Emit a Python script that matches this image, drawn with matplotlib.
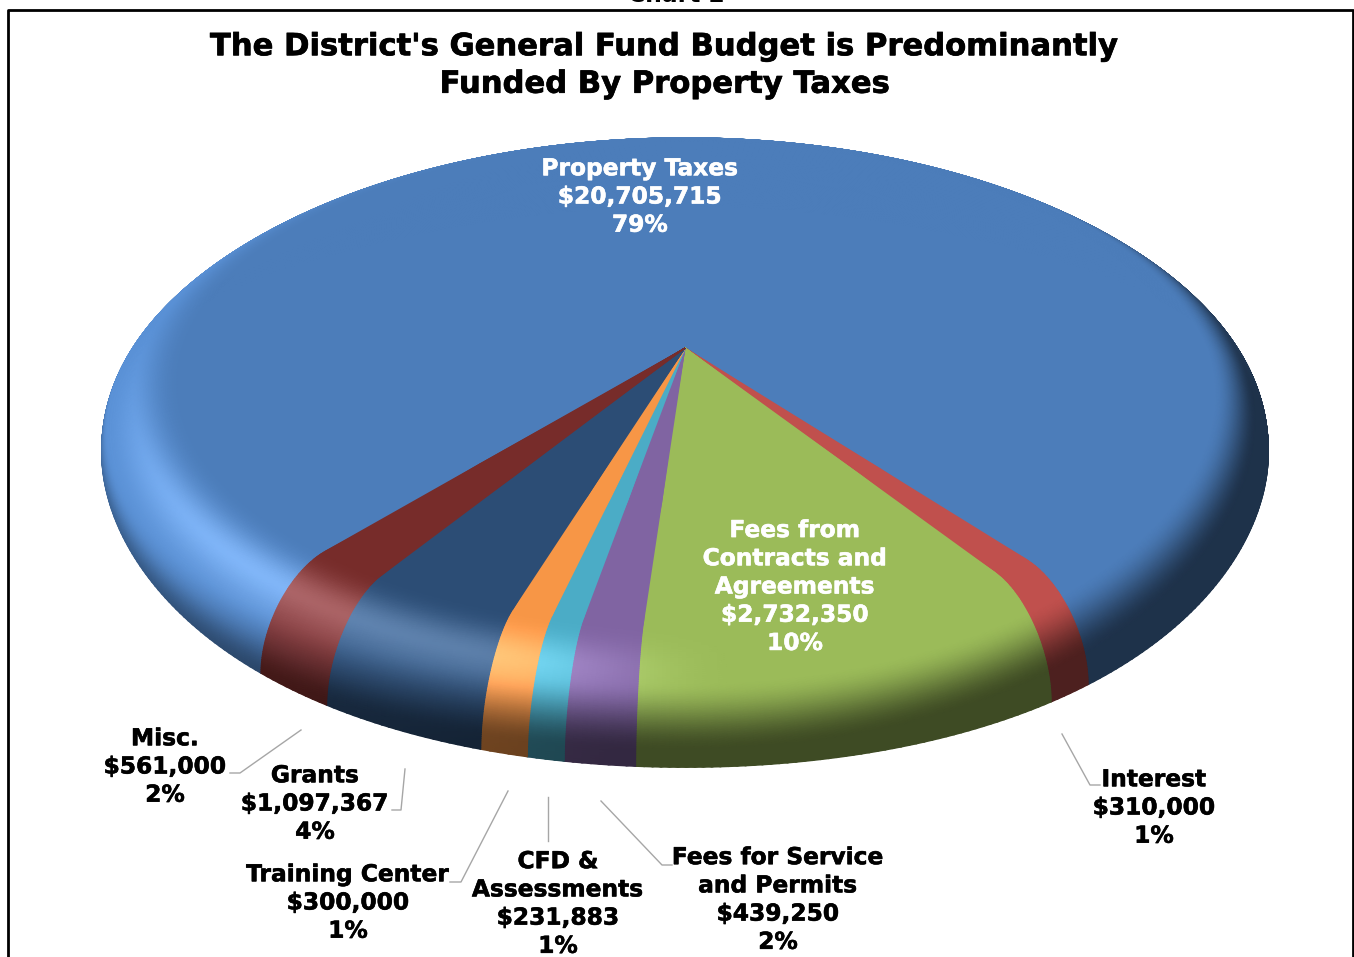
import numpy as np
import matplotlib
matplotlib.use('Agg')
import matplotlib.pyplot as plt
import matplotlib.patheffects as pe

# Slices in the order they run round the pie, left to right across the front
names = ['Misc.', 'Grants', 'Training Center', 'CFD &\nAssessments',
         'Fees for Service\nand Permits', 'Fees from\nContracts and\nAgreements',
         'Interest', 'Property Taxes']
amounts = [561000, 1097367, 300000, 231883, 439250, 2732350, 310000, 20705715]
percents = [2, 4, 1, 1, 2, 10, 1, 79]
colors = ['#772c2a', '#2c4d75', '#f79646', '#4bacc6', '#8064a2', '#9bbb59', '#c0504d', '#4c7dba']

title = "The District's General Fund Budget is Predominantly\nFunded By Property Taxes"
label_xy = [(165, 767), (315, 804), (348, 903), (558, 904), (778, 900), (795, 587), (1154, 808), (640, 197)]
label_col = ['black'] * 5 + ['white', 'black', 'white']
leaders = [[(230, 773), (240, 773), (301, 730)],
           [(392, 810), (401, 810), (405, 769)],
           [(450, 882), (461, 882), (508, 791)],
           [(548, 797), (548, 841)],
           [(601, 801), (662, 865), (672, 865)],
           [(1062, 734), (1090, 785), (1100, 785)]]

# Perspective of the pie, in pixels
AX, AY = 685, 348
A, B, K = 498, 236, 0.145
RIM, DROP = 0.155, 92
FRONT_EDGE = np.radians(-4.1)  # left edge of the green slice


def project(theta, r, phi):
    R = r + RIM * np.sin(phi)
    den = 1 - K * R * np.cos(theta)
    x = AX + A * R * np.sin(theta) / den
    drop = DROP * (1 - 0.4 * np.sin(theta) ** 4)
    y = AY + B * R * np.cos(theta) / den + drop * (1 - np.cos(phi))
    return x, y


def smooth(t):
    t = np.clip(t, 0, 1)
    return t * t * (3 - 2 * t)


def shade(base, theta, t):
    # t is 0 on the flat top, 1 at the outer edge of the bevel
    base = np.array(matplotlib.colors.to_rgb(base))
    deg = np.degrees(np.arctan2(np.sin(theta), np.cos(theta)))
    on = smooth(t / 0.45)
    lit = (1 - smooth((deg + 20) / 25)) * smooth((deg + 100) / 60)
    glow = 0.18 * lit * np.exp(-((t - 0.36) / 0.24) ** 2) * on
    left = np.clip(-np.sin(theta), 0, 1)
    side = 0.08 * left * on * (1 - smooth((t - 0.75) / 0.25))
    back = np.clip(-np.cos(theta), 0, 1)
    dk = np.clip(0.62 + 0.55 * np.cos(theta - np.radians(40)), 0.12, 1) * (1 - 0.35 * back) + 0.1 * back
    t0 = 0.47 - 0.27 * np.sin(theta) * np.abs(np.sin(theta)) - 0.2 * back
    dark = 1 - 0.6 * np.clip(dk, 0, 1) * smooth((t - t0) / 0.42)
    lift = glow[..., None] + side[..., None] * np.array([0.7, 1.0, 1.4])
    rgb = (base[None, None, :] + lift) * dark[..., None]
    return np.clip(rgb, 0, 1)


fig = plt.figure(figsize=(13.54, 9.57), dpi=100)
ax = fig.add_axes([0, 0, 1, 1])

total = sum(amounts)
spans = np.array(amounts) / total * 2 * np.pi
start = FRONT_EDGE - spans[:5].sum()
edges = start + np.concatenate([[0], np.cumsum(spans)])

# Radial rows go outer to inner so the flat top hides the back of the bevel
phi = np.linspace(np.pi / 2, 0, 71)
r_full = np.concatenate([np.ones(71), [0.6, 0.0]])
phi_full = np.concatenate([phi, [0.0, 0.0]])
t_edge = phi_full / (np.pi / 2)

for i in range(len(amounts) - 1, -1, -1):
    n = max(int(spans[i] / np.radians(0.7)), 3)
    th = np.linspace(edges[i], edges[i + 1], n + 1)
    T, S = np.meshgrid(th, np.arange(len(r_full)), indexing='xy')
    X, Y = project(T, r_full[S], phi_full[S])
    ax.pcolormesh(X, Y, shade(colors[i], T, t_edge[S]), shading='gouraud')

for pts in leaders:
    xs, ys = zip(*pts)
    ax.plot(xs, ys, color='#a6a6a6', lw=1)

for name, amt, pct, (x, y), col in zip(names, amounts, percents, label_xy, label_col):
    txt = f"{name}\n${amt:,}\n{pct}%"
    ax.text(x, y, txt, color=col, ha='center', va='center', fontsize=16.8,
            fontweight='bold', linespacing=1.29,
            path_effects=[pe.withStroke(linewidth=0.4, foreground=col)])

ax.text(665, 65.5, title, ha='center', va='center', fontsize=22.05, fontweight='bold', linespacing=1.37,
        path_effects=[pe.withStroke(linewidth=0.5, foreground='black')])
ax.text(676, -5, 'Chart 2', ha='center', va='center', fontsize=16.8, fontweight='bold', clip_on=False)

# Page frame, cut off at the bottom
ax.plot([7.5, 7.5, 1353, 1353], [957, 9.5, 9.5, 957], color='black', lw=2, clip_on=False)

ax.set_xlim(0, 1354)
ax.set_ylim(957, 0)
ax.axis('off')
fig.savefig('out.png', dpi=100, facecolor='white')
